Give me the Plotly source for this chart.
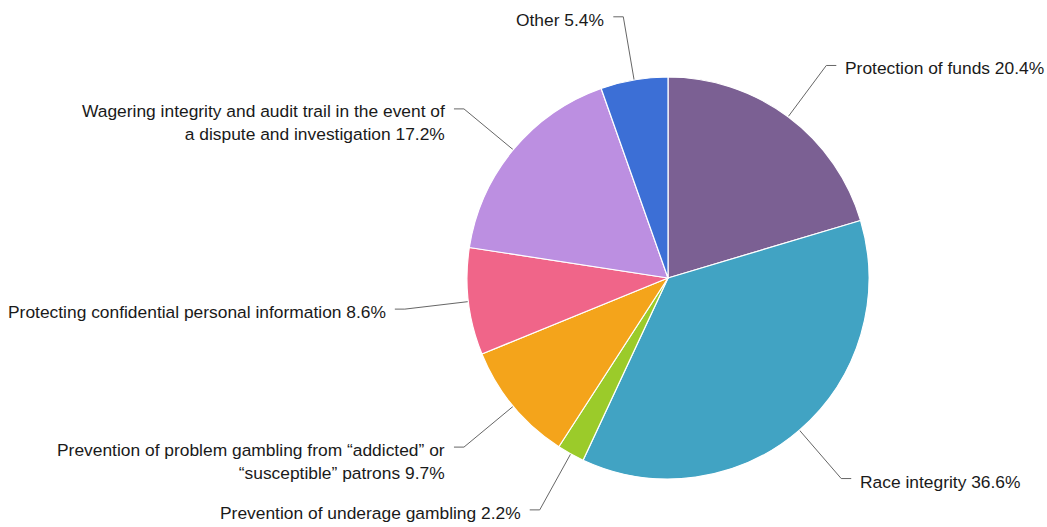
import math
import plotly.graph_objects as go

# Share of responses by regulatory priority
categories = [
    "Protection of funds",
    "Race integrity",
    "Prevention of underage gambling",
    "Prevention of problem gambling from “addicted” or<br>“susceptible” patrons",
    "Protecting confidential personal information",
    "Wagering integrity and audit trail in the event of<br>a dispute and investigation",
    "Other",
]
shares = [20.4, 36.6, 2.2, 9.7, 8.6, 17.2, 5.4]
colors = ["#7B6093", "#41A3C3", "#9BCB2A", "#F4A41B", "#F06589", "#BC8FE1", "#3C6FD6"]

W, H = 1047, 527
CX, CY, R = 668, 278, 201          # pie centre and radius in pixels
LEAD1, LEAD2, GAP = 64, 10, 7      # leader line: radial part, horizontal part, text gap
FONT = dict(family="Liberation Sans, Arial, sans-serif", size=17.4, color="#1a1a1a")
LINE_H = 22

fig = go.Figure()
fig.add_trace(go.Pie(
    labels=[c.replace("<br>", " ") for c in categories],
    values=shares,
    sort=False,
    direction="clockwise",
    rotation=0,
    textinfo="none",
    hoverinfo="label+percent",
    marker=dict(colors=colors, line=dict(color="white", width=1.2)),
    domain=dict(x=[(CX - R) / W, (CX + R) / W], y=[(H - CY - R) / H, (H - CY + R) / H]),
    showlegend=False,
))

total = sum(shares)
cum = 0.0
annotations = []
for name, v in zip(categories, shares):
    mid = (cum + v / 2) / total * 2 * math.pi
    cum += v
    sx, sy = math.sin(mid), -math.cos(mid)
    x0, y0 = CX + R * sx, CY + R * sy
    x1, y1 = CX + (R + LEAD1) * sx, CY + (R + LEAD1) * sy
    side = 1 if sx >= 0 else -1
    x2 = x1 + side * LEAD2
    fig.add_trace(go.Scatter(
        x=[x0, x1, x2], y=[y0, y1, y1], mode="lines",
        line=dict(color="#666666", width=1), hoverinfo="skip", showlegend=False,
    ))
    nlines = name.count("<br>") + 1
    annotations.append(dict(
        x=x2 + side * GAP, y=y1, xref="x", yref="y",
        text=f"{name} {v}%", showarrow=False,
        xanchor="left" if side > 0 else "right", yanchor="middle",
        align="left" if side > 0 else "right",
        yshift=-(3 + (nlines - 1) * LINE_H / 2),
        font=FONT,
    ))

fig.update_layout(
    width=W, height=H,
    margin=dict(l=0, r=0, t=0, b=0),
    paper_bgcolor="white", plot_bgcolor="rgba(0,0,0,0)",
    xaxis=dict(range=[0, W], visible=False, fixedrange=True),
    yaxis=dict(range=[H, 0], visible=False, fixedrange=True),
    annotations=annotations,
)

fig.write_html("out.html", config={"displayModeBar": False})
